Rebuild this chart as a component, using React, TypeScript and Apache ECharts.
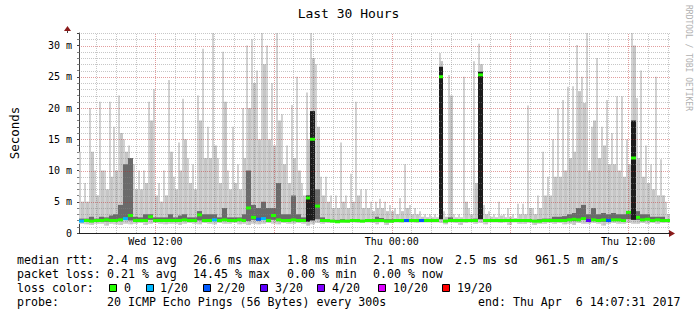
import React, { useEffect, useRef } from "react";
import * as echarts from "echarts";

// time axis: hours counted from Wed 00:00 ; window Wed 08:07:31 .. Thu 14:07:31
const START_HOUR = 8.125;
const END_HOUR = 38.125;
const BIN_HOURS = 0.25;

// smoke per 15-minute bin (ms): highest ping (thin spike)
const smokeMax = [
  13, 8, 20, 10, 21, 10, 21, 17, 22, 15,
  14, 11, 10, 10, 21, 23, 8, 10, 24.5, 9,
  14.5, 21.5, 12, 11, 22, 29.5, 17, 32, 12, 29,
  10, 17, 11, 20, 30, 31, 26, 32, 30, 24,
  32, 19, 14, 20.5, 25, 8, 22.5, 32, 27, 9,
  9, 6, 6, 14.5, 6, 9.5, 21, 7, 7, 5,
  5, 5.5, 5, 4.5, 4, 5.6, 11, 4.5, 4, 3.5,
  3, 3, 3, 28.8, 3.5, 25.3, 3, 3, 25, 4,
  27.5, 30.3, 4.5, 3.5, 3, 5, 3, 4, 3, 4.7,
  4.7, 20.4, 4, 6, 13, 9, 15, 20, 21.3, 23.4,
  23.5, 30.1, 25, 32, 17, 28, 17, 21.3, 16, 21.9,
  21.9, 15, 32, 21.6, 26, 14, 11, 25, 11.8, 5,
];
// typical upper level of the light smoke across the bin
const smokeBody = [
  5, 5, 8, 6, 7, 6, 7, 8, 9, 9,
  9, 7, 6, 7, 8, 5, 5, 6, 8, 6,
  8, 9, 7, 6, 9, 8, 9, 9, 7, 10,
  6, 7, 6, 9, 12, 12, 10, 13, 11, 10,
  12, 9, 7, 9, 8, 5, 10, 14, 10, 5,
  4.5, 3.5, 3.5, 4, 3.5, 4, 4.5, 3.5, 3.5, 3,
  3.5, 3.5, 3, 3, 3, 3, 3.5, 2.8, 2.8, 2.5,
  2.5, 2.5, 2.5, 27.5, 2.5, 3, 2.5, 2.5, 3, 2.8,
  3.5, 27, 2.8, 2.5, 2.5, 2.6, 2.5, 2.5, 2.4, 2.8,
  2.8, 3, 3, 3.5, 5, 5, 7, 8, 9, 10,
  11, 13, 12, 9, 12, 10, 11, 10, 10, 9,
  8, 9, 20, 10, 8, 7, 6, 6, 6, 3,
];
// medium-grey column top
const smokeMid = [
  5, 5, 13, 6, 10, 7, 9, 10, 16, 13,
  12, 7, 7, 8, 18, 6, 5, 6, 13, 7,
  10, 15, 8, 7, 18, 12, 12, 14, 8, 21,
  7, 8, 7, 12, 20, 24, 15, 27, 15, 14,
  18, 11, 8, 12, 10, 6, 15, 28, 17, 6,
  5, 4, 4, 5, 4, 5, 6, 4, 4, 3.5,
  4, 4, 3.5, 3.5, 3, 3.5, 4, 3, 3, 2.6,
  2.5, 2.5, 2.5, 27.5, 2.6, 22, 2.5, 2.5, 5, 3,
  8, 27, 3, 2.6, 2.5, 2.8, 2.5, 2.6, 2.4, 3,
  3, 4, 3, 4, 6, 6, 9, 9, 10, 12,
  13, 22.7, 20.8, 10, 18, 12, 14, 11, 11, 10,
  9, 11, 30, 12, 9, 8, 7, 6, 6, 3,
];
// dark smoke top (pings around the median)
const smokeDark = [
  2.3, 2.3, 2.6, 2.3, 2.6, 2.5, 2.8, 3, 4.5, 11,
  12, 2.6, 2.5, 3, 3, 2.5, 2.5, 2.5, 3, 2.5,
  2.8, 3, 2.5, 2.5, 3.5, 3, 3, 3, 2.5, 4,
  2.5, 2.5, 2.5, 3, 10, 4.5, 4, 5, 4, 4,
  8, 3, 3, 6, 3, 2.5, 6, 19.5, 7, 2.5,
  2.2, 2.1, 2.1, 2.2, 2.1, 2.2, 2.2, 2.1, 2.1, 2.1,
  2.6, 2.4, 2.2, 2.2, 2.1, 2.2, 2.2, 2.1, 2.1, 2.1,
  2.1, 2.1, 2.1, 26.6, 2.1, 2.5, 2.1, 2.1, 2.1, 2.1,
  2.3, 25.8, 2.1, 2.1, 2.1, 2.1, 2.1, 2.1, 2.1, 2.1,
  2.1, 2.2, 2.1, 2.2, 2.3, 2.3, 2.6, 2.6, 2.7, 3,
  3.2, 4, 4.5, 3, 4, 3, 3.2, 3, 3.2, 3,
  3, 3.5, 18, 3.5, 3, 3, 2.6, 2.6, 2.6, 2.2,
];
// lowest ping
const smokeLow = [
  1.5, 1.4, 1.3, 1.5, 1.5, 1.2, 1.5, 1.4, 1.3, 1.5,
  1.4, 1.5, 1.6, 1.3, 1.5, 1.6, 1.5, 1.4, 1.5, 1.5,
  1.3, 1.5, 1.6, 1.5, 1.4, 1.6, 1.5, 1.4, 1.6, 1.5,
  1.5, 1.6, 1.4, 1.5, 1.3, 1.5, 1.4, 1.5, 1.6, 1.5,
  1.4, 1.6, 1.5, 1.5, 1.6, 1.5, 1.2, 1.4, 1.6, 1.5,
  1.6, 1.7, 1.6, 1.7, 1.6, 1.7, 1.6, 1.7, 1.7, 1.6,
  1.4, 1.7, 1.3, 1.6, 1.7, 1.6, 1.7, 1.7, 1.6, 1.7,
  1.7, 1.7, 1.7, 1.6, 1.4, 1.7, 1.6, 1.3, 1.6, 1.7,
  1.5, 1.6, 1.4, 1.7, 1.7, 1.6, 1.7, 1.3, 1.7, 1.5,
  1.5, 1.6, 1.3, 1.5, 1.5, 1.6, 1.5, 1.6, 1.4, 1.5,
  1.3, 1.6, 1.5, 1.5, 1.6, 1.5, 1.2, 1.5, 1.6, 1.5,
  1.5, 1.6, 1.5, 1.5, 1.6, 1.5, 1.6, 1.5, 1.6, 1.6,
];
const medianRtt = [
  1.9, 2.0, 1.9, 2.0, 2.0, 2.1, 2.0, 2.0, 2.1, 2.3,
  2.8, 2.0, 2.0, 2.0, 2.6, 2.0, 2.0, 2.0, 2.0, 2.0,
  2.0, 2.1, 2.0, 2.0, 2.9, 2.0, 2.0, 2.1, 2.0, 2.1,
  2.0, 2.0, 2.1, 2.0, 4.0, 2.5, 2.2, 2.3, 2.0, 2.8,
  2.1, 2.0, 2.0, 2.1, 2.0, 2.0, 5.6, 15, 4.3, 2.0,
  2.0, 1.9, 1.8, 1.9, 1.9, 2.0, 2.0, 1.9, 2.0, 2.0,
  2.0, 2.0, 1.9, 1.9, 2.0, 2.0, 2.0, 2.0, 2.0, 2.0,
  2.0, 2.0, 2.0, 25, 1.9, 2.0, 2.0, 2.0, 2.0, 2.0,
  2.0, 25.3, 2.0, 2.0, 2.0, 2.0, 2.0, 2.0, 2.0, 2.0,
  2.0, 2.0, 1.9, 1.9, 2.0, 2.0, 2.0, 2.0, 2.0, 2.1,
  2.2, 2.1, 2.3, 2.0, 2.1, 2.0, 2.1, 2.0, 2.1, 2.1,
  2.0, 3.3, 12, 2.5, 2.1, 2.2, 2.0, 2.1, 2.0, 2.0,
];
// lost pings out of 20 per bin
const lossCount = [
  1, 0, 0, 0, 0, 0, 0, 0, 0, 1,
  0, 0, 0, 0, 0, 0, 0, 0, 0, 0,
  0, 0, 0, 0, 0, 0, 0, 1, 0, 0,
  0, 0, 0, 0, 0, 0, 2, 1, 0, 0,
  0, 0, 0, 0, 0, 0, 0, 0, 0, 0,
  0, 0, 0, 0, 0, 0, 0, 0, 0, 0,
  0, 0, 0, 0, 0, 0, 2, 0, 0, 2,
  0, 0, 0, 0, 0, 0, 0, 0, 0, 0,
  0, 0, 0, 0, 0, 0, 0, 0, 0, 0,
  0, 0, 0, 0, 0, 0, 0, 0, 0, 0,
  0, 0, 0, 3, 0, 0, 0, 2, 0, 0,
  0, 0, 0, 0, 0, 0, 0, 0, 0, 0,
];

// loss colour legend
const lossThresholds = [0, 1, 2, 3, 4, 10, 19];
const lossLabels = ["0", "1/20", "2/20", "3/20", "4/20", "10/20", "19/20"];
const lossColors = ["#26ff00", "#00b8ff", "#0059ff", "#5e00ff", "#7e00ff", "#dd00ff", "#ff0000"];
const lossSwatchX = [109, 146, 203, 260, 317, 378, 442];
const lossLabelX = [124, 160, 217, 275, 332, 393, 457];

// axis labels / grid
const xLabelValues = [12, 24, 36];
const xLabelTexts = ["Wed 12:00", "Thu 00:00", "Thu 12:00"];
const minorGridHours = [9, 10, 11, 13, 14, 15, 16, 17, 19, 20, 21, 22, 23, 25, 26, 27, 28, 29, 31, 32, 33, 34, 35, 37, 38];
const majorGridHours = [12, 18, 24, 30, 36];
const minorGridMs = [1, 2, 3, 4, 6, 7, 8, 9, 11, 12, 13, 14, 16, 17, 18, 19, 21, 22, 23, 24, 26, 27, 28, 29, 31, 32];
const majorGridMs = [5, 10, 15, 20, 25, 30];
const Y_MAX = 32;

// statistics text
const statRows = [
  { y: 260, parts: [[17, "median rtt:"], [107, "2.4 ms avg"], [193, "26.6 ms max"], [287, "1.8 ms min"], [373, "2.1 ms now"], [455, "2.5 ms sd"], [535, "961.5 m am/s"]] },
  { y: 274, parts: [[17, "packet loss:"], [107, "0.21 % avg"], [193, "14.45 % max"], [287, "0.00 % min"], [373, "0.00 % now"]] },
  { y: 288, parts: [[17, "loss color:"]] },
  { y: 302, parts: [[17, "probe:"], [107, "20 ICMP Echo Pings (56 Bytes) every 300s"], [478, "end: Thu Apr  6 14:07:31 2017"]] },
];

const FONT = '"DejaVu Sans Mono", monospace';

function lossColor(n: number): string {
  let c = lossColors[0];
  for (let i = 0; i < lossThresholds.length; i++) if (n >= lossThresholds[i]) c = lossColors[i];
  return c;
}

export default function App() {
  const ref = useRef<HTMLDivElement>(null);
  useEffect(() => {
    const chart = echarts.init(ref.current!, null, { renderer: "svg" });

    const binStart = smokeMax.map((_, i) => START_HOUR + i * BIN_HOURS);
    const smokeData = binStart.map((h, i) => [h, smokeLow[i], smokeMax[i], smokeBody[i], smokeMid[i], smokeDark[i], medianRtt[i]]);
    const medianData = binStart.map((h, i) => [h, medianRtt[i], lossCount[i]]);
    const gridData = [
      ...minorGridHours.map((h) => [0, h, 0]),
      ...minorGridMs.map((v) => [1, v, 0]),
      ...majorGridHours.map((h) => [0, h, 1]),
      ...majorGridMs.map((v) => [1, v, 1]),
    ];

    const graphics: any[] = [];
    graphics.push({ type: "line", shape: { x1: 67.5, y1: 33, x2: 67.5, y2: 30 }, style: { stroke: "#404040", lineWidth: 1 } });
    graphics.push({ type: "polygon", shape: { points: [[64, 31], [71, 31], [67.5, 26]] }, style: { fill: "#8b1a1a" } });
    graphics.push({ type: "polygon", shape: { points: [[669, 230], [669, 237], [675, 233.5]] }, style: { fill: "#8b1a1a" } });
    graphics.push({
      type: "text", x: 688, y: 5, rotation: -Math.PI / 2,
      style: { text: "RRDTOOL / TOBI OETIKER", fill: "#b0b0b0", fontSize: 8, fontFamily: FONT, align: "left", verticalAlign: "middle" },
    });
    statRows.forEach((row) => {
      row.parts.forEach(([x, t]) => {
        graphics.push({
          type: "text", x: x as number, y: row.y,
          style: { text: t as string, fill: "#000", fontSize: 11.6, fontFamily: FONT, align: "left", verticalAlign: "middle" },
        });
      });
    });
    lossLabels.forEach((lab, i) => {
      graphics.push({ type: "rect", shape: { x: lossSwatchX[i] + 0.5, y: 284.5, width: 7, height: 7 }, style: { fill: lossColors[i], stroke: "#000", lineWidth: 1 } });
      graphics.push({
        type: "text", x: lossLabelX[i], y: 288,
        style: { text: lab, fill: "#000", fontSize: 11.6, fontFamily: FONT, align: "left", verticalAlign: "middle" },
      });
    });

    chart.setOption({
      animation: false,
      backgroundColor: "#ffffff",
      title: {
        text: "Last 30 Hours",
        left: "center",
        top: 2,
        textStyle: { fontFamily: FONT, fontSize: 13, fontWeight: "normal", color: "#000" },
      },
      grid: { left: 67, right: 27, top: 33, bottom: 82 },
      xAxis: {
        type: "value",
        min: START_HOUR,
        max: END_HOUR,
        splitLine: { show: false },
        axisTick: { show: false },
        axisLine: { show: true, lineStyle: { color: "#202020", width: 1 } },
        axisLabel: {
          customValues: xLabelValues,
          formatter: (v: number) => {
            const k = xLabelValues.indexOf(Math.round(v));
            return k >= 0 ? xLabelTexts[k] : "";
          },
          fontFamily: FONT,
          fontSize: 10,
          color: "#000",
          margin: 3,
        },
      },
      yAxis: {
        type: "value",
        min: 0,
        max: Y_MAX,
        interval: 5,
        name: "Seconds",
        nameLocation: "middle",
        nameGap: 50,
        nameTextStyle: { fontFamily: FONT, fontSize: 12.5, color: "#000", padding: [0, 0, 8, 0] },
        splitLine: { show: false },
        axisLine: { show: true, lineStyle: { color: "#404040", width: 1 } },
        axisTick: { show: true, length: 2, lineStyle: { color: "#404040" } },
        minorTick: { show: true, splitNumber: 5, length: 2, lineStyle: { color: "#808080" } },
        axisLabel: {
          formatter: (v: number) => (v === 0 ? "0" : v % 5 === 0 ? `${v} m` : ""),
          fontFamily: FONT,
          fontSize: 10,
          color: "#000",
          margin: 7,
        },
      },
      graphic: graphics,
      series: [
        {
          type: "custom",
          name: "smoke",
          z: 1,
          silent: true,
          encode: { x: 0, y: [1, 2] },
          data: smokeData,
          renderItem: (_params: any, api: any) => {
            const x0 = api.value(0) as number;
            const lo = api.value(1) as number;
            const mx = api.value(2) as number;
            const body = api.value(3) as number;
            const md = api.value(4) as number;
            const dk = api.value(5) as number;
            const med = api.value(6) as number;
            const left = Math.round(api.coord([x0, 0])[0]);
            const right = Math.round(api.coord([x0 + BIN_HOURS, 0])[0]);
            const w = right - left;
            const y = (v: number) => api.coord([x0, v])[1];
            const rect = (x: number, width: number, top: number, bottom: number, fill: string) => ({
              type: "rect",
              shape: { x, y: y(top), width, height: y(bottom) - y(top) },
              style: { fill },
            });
            const children: any[] = [
              rect(left, w, body, lo, "#e0e0e0"),
              rect(left, 2, mx, lo, "#d2d2d2"),
              rect(right - 3, 3, md, lo, "#c6c6c6"),
            ];
            if (dk > med + 0.15) children.push(rect(left, w, dk, Math.min(med, lo + 0.6), med > 5 ? "#1c1c1c" : "#6a6a6a"));
            return { type: "group", children };
          },
        },
        {
          type: "custom",
          name: "grid",
          z: 2,
          silent: true,
          data: gridData,
          renderItem: (_params: any, api: any) => {
            const orient = api.value(0) as number;
            const val = api.value(1) as number;
            const major = api.value(2) as number;
            let shape: any;
            if (orient === 0) {
              const x = Math.round(api.coord([val, 0])[0]) + 0.5;
              shape = { x1: x, y1: api.coord([val, 0])[1], x2: x, y2: api.coord([val, Y_MAX])[1] };
            } else {
              const yy = Math.round(api.coord([START_HOUR, val])[1]) + 0.5;
              shape = { x1: api.coord([START_HOUR, val])[0], y1: yy, x2: api.coord([END_HOUR, val])[0], y2: yy };
            }
            return {
              type: "line",
              shape,
              style: { stroke: major ? "rgba(190,40,40,0.45)" : "rgba(130,130,130,0.45)", lineWidth: 1, lineDash: [1, 1] },
            };
          },
        },
        {
          type: "custom",
          name: "median rtt",
          z: 3,
          silent: true,
          encode: { x: 0, y: 1 },
          data: medianData,
          renderItem: (_params: any, api: any) => {
            const x0 = api.value(0) as number;
            const med = api.value(1) as number;
            const loss = api.value(2) as number;
            const left = Math.round(api.coord([x0, 0])[0]);
            const right = Math.round(api.coord([x0 + BIN_HOURS, 0])[0]);
            const yc = api.coord([x0, med])[1];
            return {
              type: "rect",
              shape: { x: left, y: yc - 1.5, width: right - left, height: 3 },
              style: { fill: lossColor(loss) },
            };
          },
        },
      ],
    });
    return () => chart.dispose();
  }, []);
  return (
    <div
      ref={ref}
      style={{ position: "fixed", left: 0, top: 0, width: 697, height: 315, background: "#fff" }}
    />
  );
}
